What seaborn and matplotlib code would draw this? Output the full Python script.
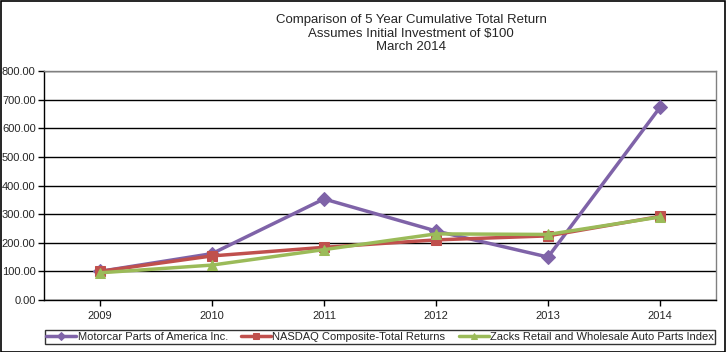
import matplotlib
matplotlib.use("Agg")
import matplotlib.pyplot as plt
from matplotlib.patches import Rectangle
import seaborn as sns
import pandas as pd

years = ["2009", "2010", "2011", "2012", "2013", "2014"]
motorcar = [100, 162, 353, 241, 150, 673]
nasdaq = [100, 154, 184, 210, 224, 292]
zacks = [95, 122, 176, 231, 229, 290]
series_names = ["Motorcar Parts of America Inc.", "NASDAQ Composite-Total Returns",
                "Zacks Retail and Wholesale Auto Parts Index"]
colors = ["#7F63A8", "#C0504D", "#9BBB59"]
markers = ["D", "s", "^"]

sns.set_theme(style="white")
plt.rcParams["font.family"] = ["Liberation Sans", "DejaVu Sans"]

df = pd.DataFrame({"Year": years * 3,
                   "Value": motorcar + nasdaq + zacks,
                   "Series": [series_names[0]] * 6 + [series_names[1]] * 6 + [series_names[2]] * 6})
df["x"] = list(range(6)) * 3

fig = plt.figure(figsize=(7.26, 3.52), dpi=100)
fig.patches.append(Rectangle((0.5/726, 0.5/352), 724.5/726, 350.5/352, transform=fig.transFigure,
                             fill=False, edgecolor="black", linewidth=1.2))
ax = fig.add_axes([44/726, 52/352, 672/726, 229/352])

for name, c, m in zip(series_names, colors, markers):
    sub = df[df["Series"] == name]
    sns.lineplot(data=sub, x="x", y="Value", ax=ax, color=c, marker=m, markersize=7,
                 linewidth=2.5, markeredgecolor=c, label=name)

ax.set_xlim(-0.5, 5.5)
ax.set_ylim(0, 800)
ax.set_yticks(range(0, 801, 100))
ax.set_yticklabels([f"{v:.2f}" for v in range(0, 801, 100)], fontsize=8)
ax.set_xticks(range(6))
ax.set_xticklabels(years, fontsize=8)
ax.set_xlabel("")
ax.set_ylabel("")
ax.grid(axis="y", color="black", linewidth=1)
ax.set_axisbelow(True)
ax.tick_params(axis="both", direction="out", length=4, width=1, color="black", left=True, bottom=True, pad=2)
ax.tick_params(axis="x", pad=4)
for s in ["left", "bottom"]:
    ax.spines[s].set_color("black")
    ax.spines[s].set_linewidth(1)
for s in ["right", "top"]:
    ax.spines[s].set_color("#808080")
    ax.spines[s].set_linewidth(1)

ax.legend_.remove()
handles, labels = ax.get_legend_handles_labels()
leg = fig.legend(handles, labels, loc="center", bbox_to_anchor=(380/726, 1 - 337/352), ncol=3,
                 fontsize=8, frameon=True, fancybox=False, edgecolor="black", markerscale=0.6,
                 handlelength=2.7, columnspacing=1.2, borderpad=0.15, handletextpad=0.1)
leg.get_frame().set_linewidth(1)

fig.text(411/726, 1 - 14/352, "Comparison of 5 Year Cumulative Total Return\nAssumes Initial Investment of $100\nMarch 2014",
         ha="center", va="top", fontsize=9.5, linespacing=1.18)

fig.savefig("out.png", dpi=100)
